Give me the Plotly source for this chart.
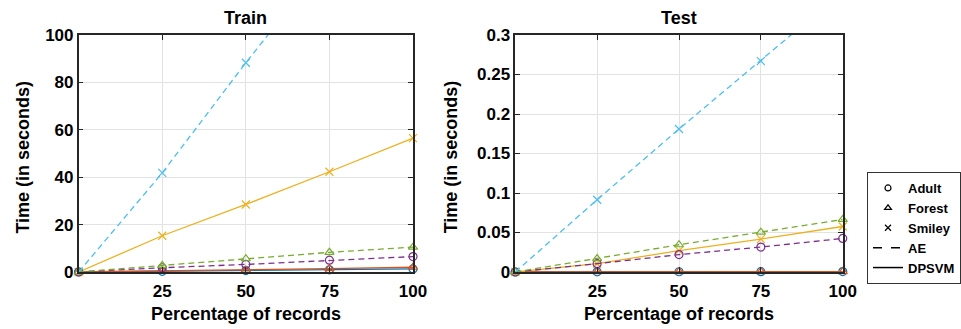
import plotly.graph_objects as go

W, H = 961, 329

pct = [0, 25, 50, 75, 100]

train_adult_dpsvm = [0, 0.3, 0.6, 0.9, 1.3]
train_forest_dpsvm = [0, 0.4, 0.8, 1.4, 2.0]
train_smiley_dpsvm = [0, 15.3, 28.5, 42.3, 56.5]
train_adult_ae = [0, 1.8, 3.2, 5.0, 6.5]
train_forest_ae = [0, 2.8, 5.6, 8.3, 10.5]
train_smiley_ae = [0, 41.8, 88.3, 133, 177]

test_adult_dpsvm = [0, 0.0002, 0.0003, 0.0004, 0.0005]
test_forest_dpsvm = [0, 0.0003, 0.0004, 0.0005, 0.0006]
test_smiley_dpsvm = [0, 0.0105, 0.027, 0.0417, 0.0576]
test_adult_ae = [0, 0.0105, 0.022, 0.0316, 0.0425]
test_forest_ae = [0, 0.017, 0.0345, 0.0505, 0.0665]
test_smiley_ae = [0, 0.0915, 0.181, 0.267, 0.355]

train_yticks = [0, 20, 40, 60, 80, 100]
test_yticks = [0, 0.05, 0.1, 0.15, 0.2, 0.25, 0.3]
test_yticklabels = ["0", "0.05", "0.1", "0.15", "0.2", "0.25", "0.3"]
x_ticks = [25, 50, 75, 100]

BLUE, ORANGE, YELLOW = "#0072BD", "#D95319", "#EDB120"
PURPLE, GREEN, CYAN = "#7E2F8E", "#77AC30", "#4DBEEE"

DASH = "6px,4px"
FONT = "Liberation Sans, Arial, sans-serif"

series = [
    # (train, test, color, symbol, dash, clip)
    (train_adult_dpsvm, test_adult_dpsvm, BLUE, "circle-open", "solid", False),
    (train_forest_dpsvm, test_forest_dpsvm, ORANGE, "triangle-up-open", "solid", False),
    (train_smiley_dpsvm, test_smiley_dpsvm, YELLOW, "x-thin-open", "solid", False),
    (train_adult_ae, test_adult_ae, PURPLE, "circle-open", DASH, False),
    (train_forest_ae, test_forest_ae, GREEN, "triangle-up-open", DASH, False),
    (train_smiley_ae, test_smiley_ae, CYAN, "x-thin-open", DASH, True),
]

fig = go.Figure()
for tr, te, col, sym, dash, clip in series:
    for ys, xa, ya in ((tr, "x", "y"), (te, "x2", "y2")):
        fig.add_trace(go.Scatter(
            x=pct, y=ys, xaxis=xa, yaxis=ya, mode="lines+markers",
            line=dict(color=col, width=1.3, dash=dash),
            marker=dict(symbol=sym, size=8, color=col, line=dict(width=1.2, color=col)),
            cliponaxis=clip, showlegend=False, hoverinfo="skip",
        ))

# legend entries (black)
for name, sym in (("Adult", "circle-open"), ("Forest", "triangle-up-open"), ("Smiley", "x-thin-open")):
    fig.add_trace(go.Scatter(x=[None], y=[None], mode="markers", name=name,
                             marker=dict(symbol=sym, size=6, color="black",
                                         line=dict(width=1.2, color="black"))))
for name, dash in (("AE", "dash"), ("DPSVM", "solid")):
    fig.add_trace(go.Scatter(x=[None], y=[None], mode="lines", name=name,
                             line=dict(color="black", width=1.5, dash=dash)))

def px_x(p):
    return p / W

def px_y(p):
    return 1 - p / H

y_dom = [px_y(272), px_y(35)]
axis_common = dict(showline=True, linecolor="#262626", linewidth=1.5, mirror="ticks",
                   ticks="inside", ticklen=5, tickcolor="#262626", tickwidth=1.2,
                   showgrid=True, gridcolor="#e3e3e3", gridwidth=1, zeroline=False,
                   tickfont=dict(family=FONT, size=17, color="black", weight="bold"),
                   automargin=False)

fig.update_layout(
    width=W, height=H, margin=dict(l=0, r=0, t=0, b=0),
    paper_bgcolor="white", plot_bgcolor="white",
    xaxis=dict(domain=[px_x(80), px_x(420)], range=[0, 100], tickvals=x_ticks,
               anchor="y", ticklabelstandoff=3, **axis_common),
    yaxis=dict(domain=y_dom, range=[0, 100], tickvals=train_yticks, anchor="x", **axis_common),
    xaxis2=dict(domain=[px_x(524), px_x(857)], range=[0, 100], tickvals=x_ticks,
                anchor="y2", ticklabelstandoff=3, **axis_common),
    yaxis2=dict(domain=y_dom, range=[0, 0.3], tickvals=test_yticks, ticktext=test_yticklabels,
                anchor="x2", **axis_common),
    legend=dict(x=px_x(882), y=px_y(172), xanchor="left", yanchor="top",
                bgcolor="white", bordercolor="#333333", borderwidth=1,
                font=dict(family=FONT, size=13, color="black", weight="bold"),
                tracegroupgap=0, itemwidth=30),
    showlegend=True,
)

ann_font = dict(family=FONT, size=18, color="black", weight="bold")
anns = [
    ("Train", px_x(250), px_y(18), 0),
    ("Test", px_x(690.5), px_y(18), 0),
    ("Percentage of records", px_x(250), px_y(314), 0),
    ("Percentage of records", px_x(690.5), px_y(314), 0),
    ("Time (in seconds)", px_x(23), px_y(157), -90),
    ("Time (in seconds)", px_x(459), px_y(157), -90),
]
for text, x, y, ang in anns:
    fig.add_annotation(text=text, x=x, y=y, xref="paper", yref="paper",
                       xanchor="center", yanchor="middle", showarrow=False,
                       textangle=ang, font=ann_font)

fig.write_html("out.html")
